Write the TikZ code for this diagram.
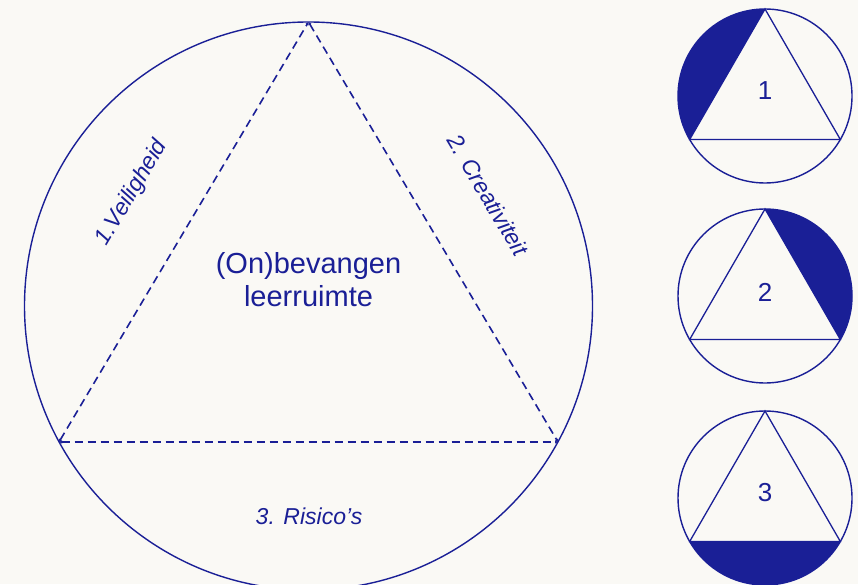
\documentclass[tikz,border=0pt]{standalone}
\usepackage{fontspec}
\setmainfont{Liberation Sans}
\usetikzlibrary{arrows.meta,calc}
\definecolor{navy}{RGB}{26,31,150}
\definecolor{bg}{RGB}{250,249,245}
\begin{document}
\begin{tikzpicture}[x=1pt,y=1pt,
  ring/.style={draw=navy,line width=1.4pt},
  side/.style={draw=navy,line width=1.6pt,dash pattern=on 8pt off 5pt,{Latex[length=3pt,width=3.5pt]}-{Latex[length=3pt,width=3.5pt]}},
  solidside/.style={draw=navy,line width=1.3pt},
  lbl/.style={text=navy,font=\fontsize{23}{26}\selectfont\itshape,inner sep=0pt},
  num/.style={text=navy,font=\fontsize{26}{30}\selectfont,inner sep=0pt}]
\useasboundingbox (0,0) rectangle (858,584);
\fill[bg] (0,0) rectangle (858,584);
% big circle
\coordinate (C) at (308.5,278);
\draw[ring] (C) circle[radius=284];
\coordinate (A) at (308.5,562);
\coordinate (L) at (59,142);
\coordinate (R) at (558,142);
\draw[side] (L) -- (A);
\draw[side] (A) -- (R);
\draw[side] (L) -- (R);
\node[text=navy,font=\fontsize{29}{33}\selectfont,align=center,inner sep=0pt] (main) at (308.5,304) {(On)bevangen\\leerruimte};
\node[lbl,rotate=59.3] (l1) at (132,391) {1.Veiligheid};
\node[lbl,rotate=-59.3] (l2) at (488,389) {2. Creativiteit};
\node[lbl] (l3) at (309,68) {3. Risico’s};
% small circle 1
\coordinate (S1) at (765,488);
\fill[navy] (S1) ++(90:87) arc[start angle=90,end angle=210,radius=87] -- cycle;
\draw[ring] (S1) circle[radius=87];
\draw[solidside] ($(S1)+(90:87)$) -- ($(S1)+(210:87)$) -- ($(S1)+(330:87)$) -- cycle;
\node[num] (n1) at (765,493) {1};
% small circle 2
\coordinate (S2) at (765,288);
\fill[navy] (S2) ++(-30:87) arc[start angle=-30,end angle=90,radius=87] -- cycle;
\draw[ring] (S2) circle[radius=87];
\draw[solidside] ($(S2)+(90:87)$) -- ($(S2)+(210:87)$) -- ($(S2)+(330:87)$) -- cycle;
\node[num] (n2) at (765,292) {2};
% small circle 3
\coordinate (S3) at (765,86);
\fill[navy] (S3) ++(210:87) arc[start angle=210,end angle=330,radius=87] -- cycle;
\draw[ring] (S3) circle[radius=87];
\draw[solidside] ($(S3)+(90:87)$) -- ($(S3)+(210:87)$) -- ($(S3)+(330:87)$) -- cycle;
\node[num] (n3) at (765,91) {3};
\end{tikzpicture}
\end{document}
